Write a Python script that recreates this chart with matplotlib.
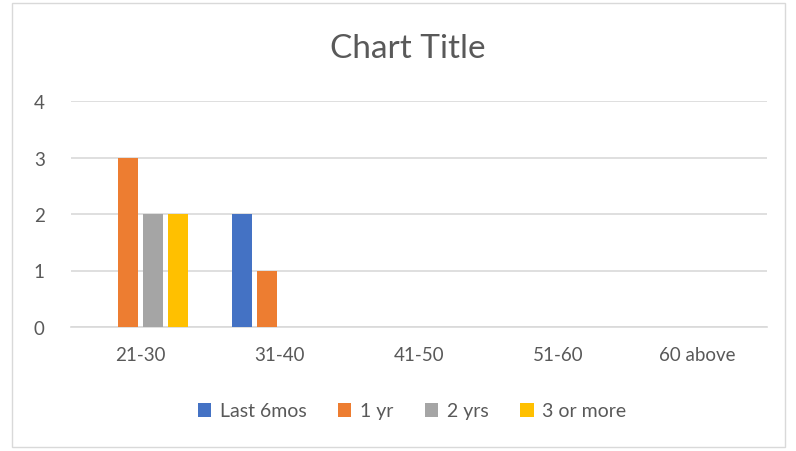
import numpy as np
import matplotlib
matplotlib.use('Agg')
import matplotlib.pyplot as plt
from matplotlib.patches import Rectangle

categories = ['21-30', '31-40', '41-50', '51-60', '60 above']
series_names = ['Last 6mos', '1 yr', '2 yrs', '3 or more']
last_6mos = [0, 2, 0, 0, 0]
one_yr = [3, 1, 0, 0, 0]
two_yrs = [2, 0, 0, 0, 0]
three_more = [2, 0, 0, 0, 0]
colors = ['#4472C4', '#ED7D31', '#A5A5A5', '#FFC000']

plt.rcParams['font.family'] = ['Lato', 'DejaVu Sans']
txt = '#595959'

fig = plt.figure(figsize=(7.96, 4.52), dpi=100)
fig.patches.append(Rectangle((12 / 796, 4 / 452), 773 / 796, 444 / 452,
                             transform=fig.transFigure, fill=False,
                             edgecolor='#d9d9d9', linewidth=1))
ax = fig.add_axes([71 / 796, 1 - 328 / 452, 696 / 796, 226 / 452])

x = np.arange(len(categories))
slot = 0.181
width = 0.145
for i, (name, vals) in enumerate(zip(series_names, [last_6mos, one_yr, two_yrs, three_more])):
    ax.bar(x + (i - 1.5) * slot, vals, width, color=colors[i], label=name, zorder=3)

ax.set_xlim(-0.5, len(categories) - 0.5)
ax.set_ylim(0, 4)
ax.set_yticks([0, 1, 2, 3, 4])
ax.set_xticks(x)
ax.set_xticklabels(categories)
ax.grid(axis='y', color='#d9d9d9', linewidth=1.2, zorder=0)
for s in ['top', 'right', 'left']:
    ax.spines[s].set_visible(False)
ax.spines['bottom'].set_color('#d9d9d9')
ax.spines['bottom'].set_linewidth(1.2)
ax.tick_params(axis='both', length=0, labelsize=13.5, colors=txt)
ax.tick_params(axis='y', pad=19)
ax.tick_params(axis='x', pad=14)

fig.text(407.5 / 796, 1 - 49 / 452, 'Chart Title', ha='center', va='center',
         fontsize=24, color=txt)

fig.legend(loc='center', bbox_to_anchor=(412 / 796, 1 - 412 / 452), ncol=4,
           frameon=False, fontsize=14, labelcolor=txt, handlelength=0.7,
           handleheight=0.7, handletextpad=0.45, columnspacing=1.6)

fig.savefig('out.png', dpi=100)
